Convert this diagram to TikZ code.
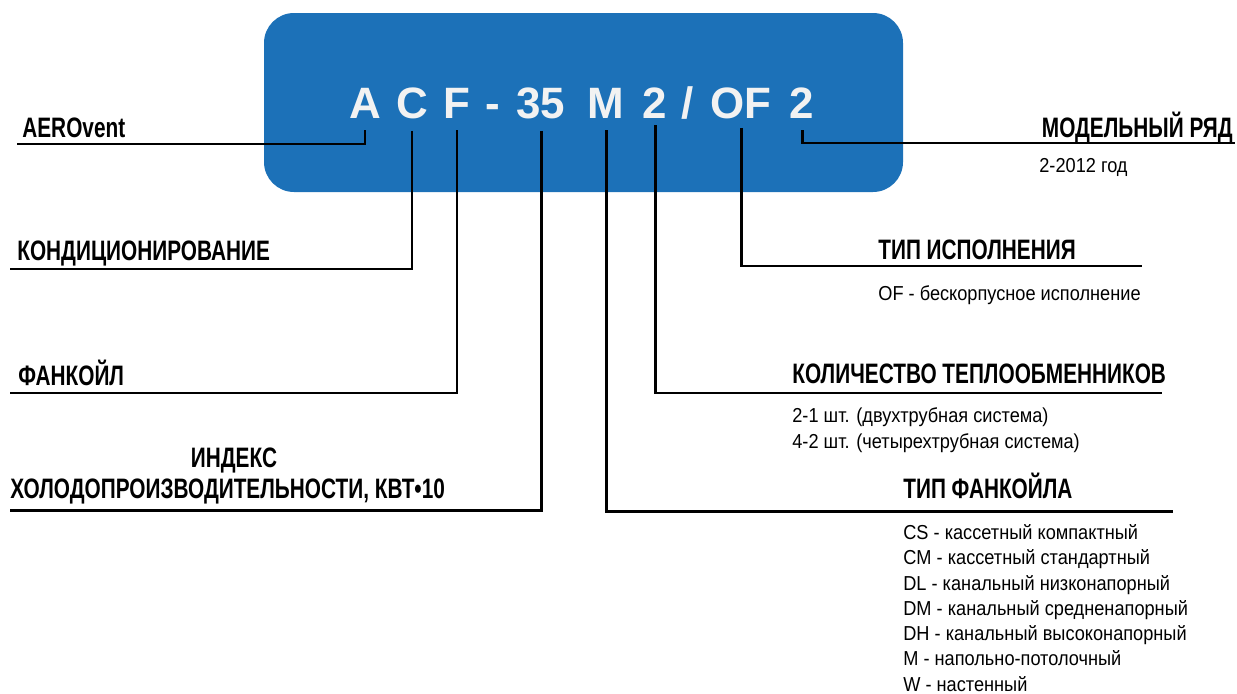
\documentclass[tikz,border=0pt]{standalone}
\usepackage{fontspec}
\setmainfont{Liberation Sans}
\newfontfamily\narrowfont[FakeStretch=0.74]{Liberation Sans}
\newfontfamily\notefont[FakeStretch=0.9]{Liberation Sans}
\usetikzlibrary{positioning}
\definecolor{plateblue}{RGB}{28,113,184}
\definecolor{letterwhite}{RGB}{242,242,242}
\tikzset{
  lead/.style = {line width=1.7pt, black, shorten <=0.24cm},
  code/.style = {anchor=base, inner sep=0pt, text=letterwhite,
   font=\fontsize{25}{26}\selectfont\bfseries},
  title/.style = {anchor=base west, inner sep=0pt,
   font=\narrowfont\fontsize{16}{18}\selectfont\bfseries},
  note/.style = {anchor=base west, inner sep=0pt, align=left,
   font=\notefont\fontsize{11.5}{14.35}\selectfont},
}

\begin{document}
\begin{tikzpicture}[x=0.02cm,y=-0.02cm]
\useasboundingbox (0,0) rectangle (1237,693);
\fill[plateblue, rounded corners=0.6cm] (264,13) rectangle (903,192);

\node[code] (cA) at (365,118) {A};
\node[code] (cC) at (412,118) {C};
\node[code] (cF) at (457,118) {F};
\node[code] (cDash) at (493,118) {-};
\node[code] (cIdx) at (541,118) {35};
\node[code] (cM) at (606,118) {M};
\node[code] (cNum) at (655,118) {2};
\node[code] (cSlash) at (688,118) {/};
\node[code] (cOF) at (741,118) {OF};
\node[code] (cRow) at (802,118) {2};

\node[title] (tAero) at (22,137) {AEROvent};
\node[title] (tCond) at (17,260) {КОНДИЦИОНИРОВАНИЕ};
\node[title] (tFan) at (18,385) {ФАНКОЙЛ};
\node[title, anchor=base] (tIdx) at (234,467) {ИНДЕКС};
\node[title] (tIdxB) at (10,498) {ХОЛОДОПРОИЗВОДИТЕЛЬНОСТИ, КВТ•10};

\node[title, anchor=base east] (tRow) at (1233,137) {МОДЕЛЬНЫЙ РЯД};
\node[note] (nRow) at (1039,172) {2-2012 год};
\node[title] (tExec) at (878,259) {ТИП ИСПОЛНЕНИЯ};
\node[note] (nExec) at (878,300) {OF - бескорпусное исполнение};
\node[title] (tNum) at (792,383) {КОЛИЧЕСТВО ТЕПЛООБМЕННИКОВ};
\node[note] (nNum) at (792,448) {2-1 шт. (двухтрубная система)\\
  4-2 шт. (четырехтрубная система)};
\node[title] (tType) at (903,498) {ТИП ФАНКОЙЛА};
\node[note] (nType) at (903,691) {CS - кассетный компактный\\
  CM - кассетный стандартный\\
  DL - канальный низконапорный\\
  DM - канальный средненапорный\\
  DH - канальный высоконапорный\\
  M - напольно-потолочный\\
  W - настенный};

\coordinate (eAero) at (17,144);
\coordinate (eCond) at (10,269);
\coordinate (eFan) at (10,393);
\coordinate (eIdx) at (10,510);
\coordinate (eType) at (1173,511);
\coordinate (eNum) at (1162,393);
\coordinate (eExec) at (1142,266);
\coordinate (eRow) at (1235,143);

\draw[lead] (cA.south) |- (eAero);
\draw[lead] (cC.south) |- (eCond);
\draw[lead] (cF.south) |- (eFan);
\draw[lead] (cIdx.south) |- (eIdx);
\draw[lead] (cM.south) |- (eType);
\draw[lead, shorten <=0.14cm] (cNum.south) |- (eNum);
\draw[lead, shorten <=0.18cm] (cOF.south) |- (eExec);
\draw[lead] (cRow.south) |- (eRow);
\end{tikzpicture}
\end{document}
